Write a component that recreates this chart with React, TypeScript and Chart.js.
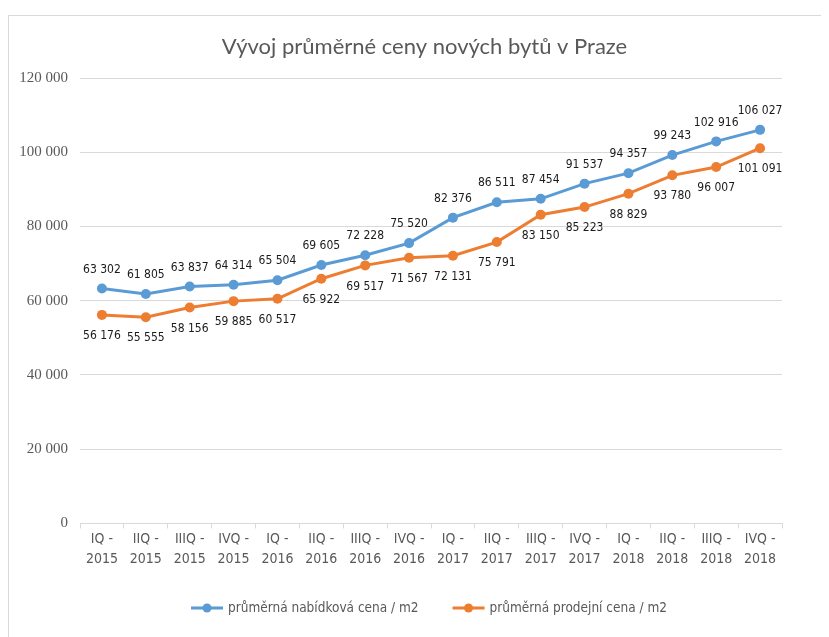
import React, { useEffect, useRef } from "react";
import { Chart, registerables } from "chart.js";

Chart.register(...registerables);

const quarters = ["IQ", "IIQ", "IIIQ", "IVQ"];
const years = ["2015", "2016", "2017", "2018"];
const categories: string[][] = years.flatMap((y) => quarters.map((q) => [q + " -", y]));

const offerPrice = [63302, 61805, 63837, 64314, 65504, 69605, 72228, 75520, 82376, 86511, 87454, 91537, 94357, 99243, 102916, 106027];
const salePrice = [56176, 55555, 58156, 59885, 60517, 65922, 69517, 71567, 72131, 75791, 83150, 85223, 88829, 93780, 96007, 101091];
const seriesNames = ["průměrná nabídková cena / m2", "průměrná prodejní cena / m2"];
const seriesColors = ["#5B9BD5", "#ED7D31"];
const titleText = "Vývoj průměrné ceny nových bytů v Praze";

const fmt = (n: number) => String(n).replace(/\B(?=(\d{3})+(?!\d))/g, " ");

const NARROW = "'Liberation Sans Narrow', 'DejaVu Sans Condensed', sans-serif";

const dataLabels = {
  id: "dataLabels",
  afterDatasetsDraw(chart: any) {
    const ctx = chart.ctx;
    ctx.save();
    ctx.font = "12px " + NARROW;
    ctx.fillStyle = "#1a1a1a";
    ctx.textAlign = "center";
    ctx.textBaseline = "middle";
    chart.data.datasets.forEach((ds: any, i: number) => {
      const meta = chart.getDatasetMeta(i);
      meta.data.forEach((pt: any, j: number) => {
        const dy = i === 0 ? -19 : 21;
        ctx.fillText(fmt(ds.data[j]), pt.x, pt.y + dy);
      });
    });
    ctx.restore();
  },
};

const titleAndLegend = {
  id: "titleAndLegend",
  afterDraw(chart: any) {
    const ctx = chart.ctx;
    ctx.save();
    // title
    ctx.font = "22px Lato, sans-serif";
    ctx.fillStyle = "#595959";
    ctx.textAlign = "center";
    ctx.textBaseline = "middle";
    ctx.fillText(titleText, chart.width / 2 + 6, 31);
    // legend
    ctx.font = "13.5px " + NARROW;
    ctx.textAlign = "left";
    const iconW = 32;
    const gapIconText = 5;
    const gapItems = 34;
    const widths = seriesNames.map((t) => iconW + gapIconText + ctx.measureText(t).width);
    const total = widths.reduce((a, b) => a + b, 0) + gapItems * (widths.length - 1);
    const cx = (chart.chartArea.left + chart.chartArea.right) / 2;
    let x = cx - total / 2 - 2;
    const y = chart.height - 28;
    seriesNames.forEach((t, i) => {
      ctx.strokeStyle = seriesColors[i];
      ctx.fillStyle = seriesColors[i];
      ctx.lineWidth = 3;
      ctx.beginPath();
      ctx.moveTo(x, y);
      ctx.lineTo(x + iconW, y);
      ctx.stroke();
      ctx.beginPath();
      ctx.arc(x + iconW / 2, y, 4.5, 0, Math.PI * 2);
      ctx.fill();
      ctx.fillStyle = "#595959";
      ctx.fillText(t, x + iconW + gapIconText, y);
      x += widths[i] + gapItems;
    });
    ctx.restore();
  },
};

export default function App() {
  const ref = useRef<HTMLCanvasElement>(null);
  useEffect(() => {
    const chart = new Chart(ref.current!, {
      type: "line",
      data: {
        labels: categories,
        datasets: [offerPrice, salePrice].map((d, i) => ({
          label: seriesNames[i],
          data: d,
          borderColor: seriesColors[i],
          backgroundColor: seriesColors[i],
          borderWidth: 3,
          pointRadius: 5,
          pointBorderWidth: 0,
          pointStyle: "circle",
          tension: 0,
        })),
      },
      options: {
        responsive: false,
        animation: false,
        layout: { padding: { top: 62, right: 46, bottom: 65, left: 0 } },
        plugins: {
          title: { display: false },
          legend: { display: false },
          tooltip: { enabled: false },
        },
        scales: {
          x: {
            offset: true,
            grid: {
              display: true,
              drawOnChartArea: false,
              drawTicks: true,
              tickLength: 5,
              color: "#d9d9d9",
              offset: true,
            },
            border: { display: true, color: "#d9d9d9" },
            ticks: {
              color: "#595959",
              font: { family: NARROW, size: 14, lineHeight: 1.45 },
              maxRotation: 0,
              autoSkip: false,
              padding: 1,
            },
          },
          y: {
            min: 0,
            max: 120000,
            afterFit: (s: any) => {
              s.width = 71;
            },
            grid: { color: "#d9d9d9", drawTicks: false },
            border: { display: false },
            ticks: {
              stepSize: 20000,
              color: "#595959",
              padding: 12,
              font: { family: "'Liberation Serif', serif", size: 15 },
              callback: (v: any) => fmt(Number(v)),
            },
          },
        },
      },
      plugins: [dataLabels, titleAndLegend],
    });
    return () => chart.destroy();
  }, []);
  return (
    <div
      style={{
        marginTop: 7,
        width: 820,
        height: 622,
        borderTop: "1px solid #d9d9d9",
        borderLeft: "1px solid #d9d9d9",
        background: "#fff",
        overflow: "hidden",
      }}
    >
      <canvas ref={ref} width={819} height={620} style={{ display: "block" }} />
    </div>
  );
}
